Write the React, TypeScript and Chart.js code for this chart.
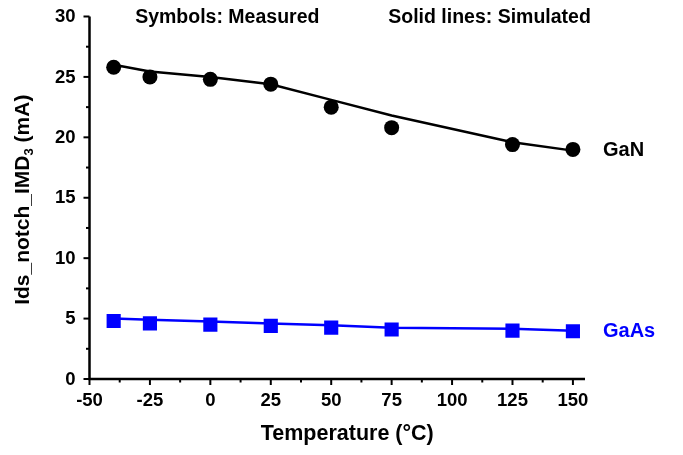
import React, { useEffect, useRef } from "react";
import { Chart, registerables } from "chart.js";

Chart.register(...registerables);

const temps = [-40, -25, 0, 25, 50, 75, 125, 150];
const ganMeasured = [25.8, 25.0, 24.8, 24.4, 22.5, 20.8, 19.4, 19.0];
const ganSimulated = [26.0, 25.45, 25.0, 24.4, 23.1, 21.8, 19.6, 18.9];
const gaasMeasured = [4.8, 4.6, 4.5, 4.4, 4.25, 4.1, 4.0, 3.95];
const gaasSimulated = [5.0, 4.9, 4.75, 4.6, 4.45, 4.25, 4.15, 4.0];

const xMajorTicks = [-50, -25, 0, 25, 50, 75, 100, 125, 150];
const yMajorTicks = [0, 5, 10, 15, 20, 25, 30];

const FONT = "'Liberation Sans', Arial, sans-serif";
const BLUE = "#0000FF";

const pts = (ys: number[]) => temps.map((t, i) => ({ x: t, y: ys[i] }));

const axesPlugin = {
  id: "customAxes",
  afterDatasetsDraw(chart: any) {
    const ctx = chart.ctx;
    const xs = chart.scales.x;
    const ys = chart.scales.y;
    const { left, right, top, bottom } = chart.chartArea;
    ctx.save();
    ctx.strokeStyle = "#000";
    ctx.lineWidth = 2.5;
    ctx.lineCap = "butt";
    ctx.beginPath();
    ctx.moveTo(left, top);
    ctx.lineTo(left, bottom);
    ctx.lineTo(right, bottom);
    ctx.stroke();
    ctx.lineWidth = 2;
    ctx.fillStyle = "#000";
    ctx.font = `bold 18.5px ${FONT}`;
    ctx.textAlign = "center";
    ctx.textBaseline = "middle";
    // x ticks
    for (let i = 0; i < xMajorTicks.length; i++) {
      const v = xMajorTicks[i];
      const px = xs.getPixelForValue(v);
      ctx.beginPath();
      ctx.moveTo(px, bottom);
      ctx.lineTo(px, bottom + 6);
      ctx.stroke();
      ctx.fillText(String(v), px, bottom + 22);
      if (i < xMajorTicks.length - 1) {
        const mv = (v + xMajorTicks[i + 1]) / 2;
        const mp = xs.getPixelForValue(mv);
        ctx.beginPath();
        ctx.moveTo(mp, bottom);
        ctx.lineTo(mp, bottom + 3.5);
        ctx.stroke();
      }
    }
    ctx.textAlign = "right";
    for (let i = 0; i < yMajorTicks.length; i++) {
      const v = yMajorTicks[i];
      const py = ys.getPixelForValue(v);
      ctx.beginPath();
      ctx.moveTo(left, py);
      ctx.lineTo(left - 6, py);
      ctx.stroke();
      ctx.fillText(String(v), left - 14, py + 0.5);
      if (i < yMajorTicks.length - 1) {
        const mv = (v + yMajorTicks[i + 1]) / 2;
        const mp = ys.getPixelForValue(mv);
        ctx.beginPath();
        ctx.moveTo(left, mp);
        ctx.lineTo(left - 3.5, mp);
        ctx.stroke();
      }
    }

    // x title
    ctx.font = `bold 21.5px ${FONT}`;
    ctx.textAlign = "center";
    ctx.textBaseline = "middle";
    ctx.fillText("Temperature (°C)", (left + right) / 2 + 10, bottom + 55);

    // y title with subscript
    ctx.save();
    ctx.translate(left - 66, (top + bottom) / 2 + 2);
    ctx.rotate(-Math.PI / 2);
    const p1 = "Ids_notch_IMD";
    const p2 = "3";
    const p3 = " (mA)";
    ctx.font = `bold 21px ${FONT}`;
    const w1 = ctx.measureText(p1).width;
    const w3 = ctx.measureText(p3).width;
    ctx.font = `bold 13px ${FONT}`;
    const w2 = ctx.measureText(p2).width;
    const total = w1 + w2 + w3;
    let cx = -total / 2;
    ctx.textAlign = "left";
    ctx.font = `bold 21px ${FONT}`;
    ctx.fillText(p1, cx, 0);
    cx += w1;
    ctx.font = `bold 13px ${FONT}`;
    ctx.fillText(p2, cx, 6);
    cx += w2;
    ctx.font = `bold 21px ${FONT}`;
    ctx.fillText(p3, cx, 0);
    ctx.restore();

    // annotations
    ctx.font = `bold 19.5px ${FONT}`;
    ctx.textAlign = "center";
    ctx.textBaseline = "middle";
    ctx.fillStyle = "#000";
    ctx.fillText("Symbols: Measured", xs.getPixelForValue(7), top + 1);
    ctx.fillText("Solid lines: Simulated", xs.getPixelForValue(115.5), top + 1);
    ctx.font = `bold 20px ${FONT}`;
    ctx.textAlign = "left";
    ctx.fillText("GaN", right + 18, ys.getPixelForValue(19.0) + 1);
    ctx.fillStyle = BLUE;
    ctx.fillText("GaAs", right + 18, ys.getPixelForValue(4.0) + 1);
    ctx.restore();
  },
};

export default function App() {
  const ref = useRef<HTMLCanvasElement | null>(null);
  useEffect(() => {
    if (!ref.current) return;
    const chart = new Chart(ref.current, {
      type: "scatter",
      data: {
        datasets: [
          {
            label: "GaN measured",
            data: pts(ganMeasured),
            showLine: false,
            pointStyle: "circle",
            pointRadius: 7.5,
            backgroundColor: "#000",
            borderColor: "#000",
            borderWidth: 0,
            order: 0,
          },
          {
            label: "GaAs measured",
            data: pts(gaasMeasured),
            showLine: false,
            pointStyle: "rect",
            pointRadius: 10,
            backgroundColor: BLUE,
            borderColor: BLUE,
            borderWidth: 0,
            order: 0,
          },
          {
            label: "GaN simulated",
            data: pts(ganSimulated),
            showLine: true,
            pointRadius: 0,
            borderColor: "#000",
            borderWidth: 2.5,
            tension: 0,
            order: 1,
          },
          {
            label: "GaAs simulated",
            data: pts(gaasSimulated),
            showLine: true,
            pointRadius: 0,
            borderColor: BLUE,
            borderWidth: 2.5,
            tension: 0,
            order: 1,
          },
        ],
      },
      options: {
        animation: false,
        responsive: false,
        maintainAspectRatio: false,
        layout: { padding: { left: 0, top: 16.5, right: 98, bottom: 0 } },
        plugins: {
          legend: { display: false },
          tooltip: { enabled: false },
          title: { display: false },
        },
        scales: {
          x: {
            type: "linear",
            min: -50,
            max: 155,
            grid: { display: false, drawTicks: false },
            border: { display: false },
            ticks: { display: false },
            afterFit: (scale: any) => {
              scale.height = 76;
            },
          },
          y: {
            type: "linear",
            min: 0,
            max: 30,
            grid: { display: false, drawTicks: false },
            border: { display: false },
            ticks: { display: false },
            afterFit: (scale: any) => {
              scale.width = 89.5;
            },
          },
        },
      },
      plugins: [axesPlugin],
    });
    return () => chart.destroy();
  }, []);
  return (
    <div style={{ position: "fixed", left: 0, top: 0, width: 683, height: 455, background: "#fff" }}>
      <canvas ref={ref} width={683} height={455} style={{ display: "block" }} />
    </div>
  );
}
